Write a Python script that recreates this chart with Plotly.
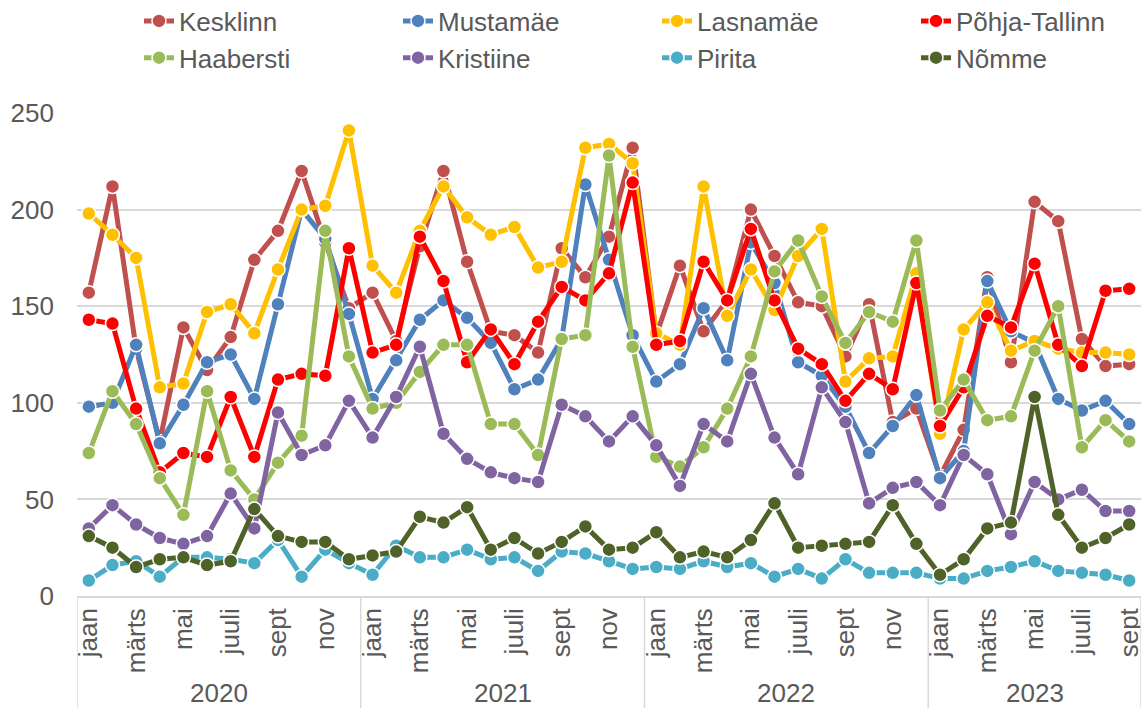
import plotly.graph_objects as go

years = ["2020", "2021", "2022", "2023"]
months = ["jaan", "veebr", "märts", "apr", "mai", "juuni", "juuli", "aug", "sept", "okt", "nov", "dets"]
n_points = 45

kesklinn = [157, 212, 128, 80, 139, 117, 134, 174, 189, 220, 183, 149,
            157, 132, 181, 220, 173, 137, 135, 126, 180, 165, 186, 232,
            135, 171, 137, 153, 200, 176, 152, 150, 124, 151, 90, 97,
            62, 86, 165, 121, 204, 194, 133, 119, 120]
mustamae = [98, 100, 130, 79, 99, 121, 125, 102, 151, 200, 185, 146,
            102, 122, 143, 153, 144, 131, 107, 112, 133, 213, 174, 135,
            111, 120, 149, 122, 183, 162, 121, 114, 98, 74, 88, 104,
            61, 75, 163, 137, 131, 102, 96, 101, 89]
lasnamae = [198, 187, 175, 108, 110, 147, 151, 136, 169, 200, 202, 241,
            171, 157, 189, 212, 196, 187, 191, 170, 173, 232, 234, 224,
            136, 130, 212, 145, 169, 148, 176, 190, 111, 123, 124, 167,
            84, 138, 152, 127, 132, 128, 126, 126, 125]
pohja = [143, 141, 97, 64, 74, 72, 103, 72, 112, 115, 114, 180,
         126, 130, 186, 163, 121, 138, 120, 142, 160, 153, 167, 214,
         130, 132, 173, 153, 190, 153, 128, 120, 101, 115, 107, 162,
         88, 108, 145, 139, 172, 130, 119, 158, 159]
haabersti = [74, 106, 89, 61, 42, 106, 65, 50, 69, 83, 189, 124,
             97, 100, 116, 130, 130, 89, 89, 73, 133, 135, 228, 129,
             72, 67, 77, 97, 124, 168, 184, 155, 131, 147, 142, 184,
             96, 112, 91, 93, 127, 150, 77, 91, 80]
kristiine = [35, 47, 37, 30, 27, 31, 53, 35, 95, 73, 78, 101,
             82, 103, 129, 84, 71, 64, 61, 59, 99, 93, 80, 93,
             78, 57, 89, 80, 115, 82, 63, 108, 90, 48, 56, 59,
             47, 73, 63, 32, 59, 50, 55, 44, 44]
pirita = [8, 16, 18, 10, 20, 20, 19, 17, 29, 10, 24, 17,
          11, 26, 20, 20, 24, 19, 20, 13, 23, 22, 18, 14,
          15, 14, 18, 15, 17, 10, 14, 9, 19, 12, 12, 12,
          9, 9, 13, 15, 18, 13, 12, 11, 8]
nomme = [31, 25, 15, 19, 20, 16, 18, 45, 31, 28, 28, 19,
         21, 23, 41, 38, 46, 24, 30, 22, 28, 36, 24, 25,
         33, 20, 23, 20, 29, 48, 25, 26, 27, 28, 47, 27,
         11, 19, 35, 38, 103, 42, 25, 30, 37]

series_names = ["Kesklinn", "Mustamäe", "Lasnamäe", "Põhja-Tallinn",
                "Haabersti", "Kristiine", "Pirita", "Nõmme"]
series_values = [kesklinn, mustamae, lasnamae, pohja, haabersti, kristiine, pirita, nomme]
series_colors = ["#C0504D", "#4F81BD", "#FFC000", "#FF0000",
                 "#9BBB59", "#8064A2", "#4BACC6", "#4F6228"]

TXT = "#595959"
GRID = "#D9D9D9"

x_cats = [f"{months[i % 12]} {years[i // 12]}" for i in range(n_points)]
tick_vals = x_cats[::2]
tick_text = [months[i % 12] for i in range(0, n_points, 2)]

# four legend columns (Excel-like 4x2 legend grid)
legend_ids = ["legend", "legend2", "legend3", "legend4"]

fig = go.Figure()
for k, (name, vals, col) in enumerate(zip(series_names, series_values, series_colors)):
    fig.add_trace(go.Scatter(
        x=x_cats, y=vals, name=name, mode="lines+markers",
        line=dict(color=col, width=5),
        marker=dict(color=col, size=14, line=dict(color="white", width=1.5)),
        legend=legend_ids[k % 4],
    ))

plot_top, plot_bottom = 113, 596
plot_h = plot_bottom - plot_top
W, H = 1141, 708
L = 77
plot_w = W - L

def py(pix):
    return (plot_bottom - pix) / plot_h

def px(pix):
    return (pix - L) / plot_w

legend_common = dict(orientation="v", xref="paper", yref="paper",
                     xanchor="left", yanchor="top", bgcolor="rgba(0,0,0,0)",
                     font=dict(size=26, color=TXT), tracegroupgap=0,
                     itemwidth=30)
col_x = [139, 398, 657, 916]
layout_legends = {}
for lid, cx in zip(legend_ids, col_x):
    layout_legends[lid] = dict(legend_common, x=px(cx), y=py(-2.5))

# year labels and group dividers under the month labels
annotations = []
shapes = []
for k, yr in enumerate(years):
    start = 12 * k
    end = min(12 * k + 11, n_points - 1)
    annotations.append(dict(x=(start + end) / 2, y=py(693), xref="x", yref="paper",
                            text=yr, showarrow=False, xanchor="center", yanchor="middle",
                            font=dict(size=26, color=TXT)))
    shapes.append(dict(type="line", xref="x", yref="paper", x0=start - 0.5, x1=start - 0.5,
                       y0=0, y1=py(H), line=dict(color=GRID, width=1.5)))
shapes.append(dict(type="line", xref="x", yref="paper", x0=n_points - 0.5, x1=n_points - 0.5,
                   y0=0, y1=py(H), line=dict(color=GRID, width=1.5)))

fig.update_layout(
    width=W, height=H,
    margin=dict(l=L, r=0, t=plot_top, b=H - plot_bottom, autoexpand=False),
    paper_bgcolor="white", plot_bgcolor="white",
    font=dict(family="Liberation Sans, Arial, sans-serif", size=26, color=TXT),
    showlegend=True,
    annotations=annotations,
    shapes=shapes,
    **layout_legends,
)
fig.update_yaxes(range=[0, 250], dtick=50, showgrid=True, gridcolor=GRID,
                 gridwidth=1.5, zeroline=False, showline=False, ticks="",
                 ticklabelstandoff=22, automargin=False,
                 tickfont=dict(size=26, color=TXT))
fig.update_xaxes(type="category", range=[-0.5, n_points - 0.5],
                 showgrid=False, showline=True, linecolor=GRID, linewidth=1.5,
                 ticks="", tickangle=-90, tickvals=tick_vals, ticktext=tick_text,
                 automargin=False, tickfont=dict(size=26, color=TXT))

fig.write_html("out.html", config={"displayModeBar": False},
               post_script="document.body.style.margin='0';document.body.style.overflow='hidden';")
